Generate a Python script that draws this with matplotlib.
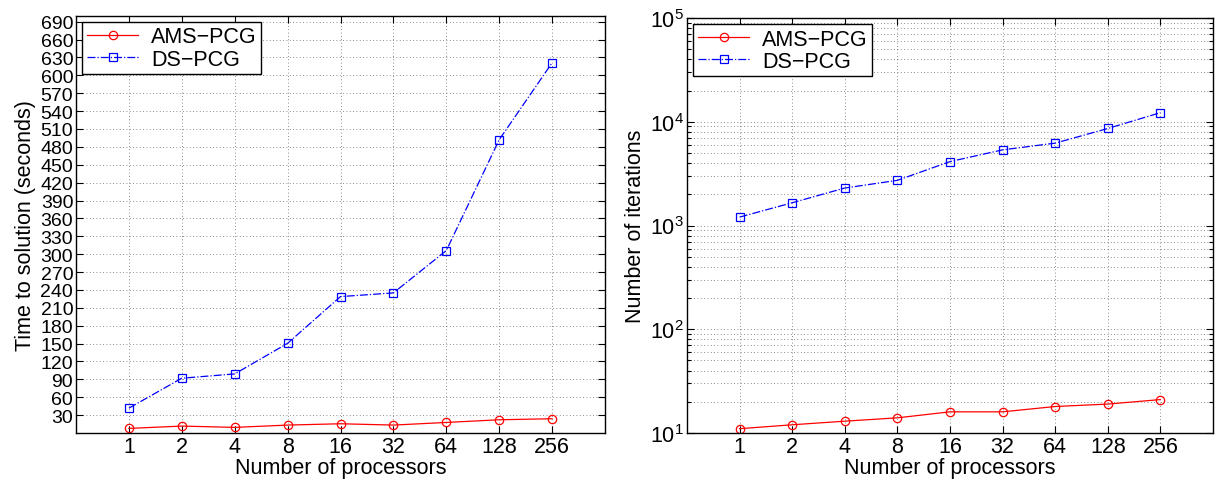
import matplotlib
matplotlib.use("Agg")
import matplotlib.pyplot as plt
from matplotlib.ticker import LogLocator, NullFormatter

plt.rcParams['font.family'] = ['Liberation Sans', 'DejaVu Sans']
plt.rcParams['mathtext.fontset'] = 'custom'
plt.rcParams['mathtext.rm'] = 'Liberation Sans'

procs = ['1', '2', '4', '8', '16', '32', '64', '128', '256']
time_ams = [7.7, 11.6, 9.4, 13.3, 15.5, 13.3, 17.7, 22.2, 23.9]
time_ds = [41.7, 91.9, 99.1, 150.4, 228.8, 235.0, 306.0, 492.0, 621.0]
iter_ams = [11, 12, 13, 14, 16, 16, 18, 19, 21]
iter_ds = [1205, 1656, 2297, 2724, 4130, 5360, 6220, 8610, 12230]
labels = ['AMS\u2212PCG', 'DS\u2212PCG']

fig = plt.figure(figsize=(12.19, 4.85), dpi=100)
W, H = 1219, 485
ax1 = fig.add_axes([76 / W, 1 - 434 / H, (605 - 76) / W, (434 - 16.7) / H])
ax2 = fig.add_axes([687 / W, 1 - 434 / H, (1213 - 687) / W, (434 - 19) / H])

pos = list(range(1, len(procs) + 1))
fs = 15.5

def style(ax):
    ax.tick_params(direction='in', which='both', top=True, right=True,
                   labelsize=fs, length=5, width=0.8, pad=2)
    ax.tick_params(which='minor', length=3)
    for s in ax.spines.values():
        s.set_linewidth(1.0)
    ax.set_xlim(0, 10)
    ax.set_xticks(pos)
    ax.set_xticklabels(procs)
    ax.set_xlabel('Number of processors', fontsize=fs, labelpad=0)

for ax, ya, yd in [(ax1, time_ams, time_ds), (ax2, iter_ams, iter_ds)]:
    ax.plot(pos, ya, color='red', linestyle='-', linewidth=0.9, marker='o',
            markersize=6, markerfacecolor='none', markeredgewidth=0.9, label=labels[0])
    ax.plot(pos, yd, color='blue', linestyle='-.', linewidth=0.9, marker='s',
            markersize=5.5, markerfacecolor='none', markeredgewidth=0.9, label=labels[1])
    style(ax)

ax1.set_ylim(0, 700)
ax1.set_yticks(list(range(30, 691, 30)))
ax1.tick_params(axis='y', labelsize=14, pad=2)
ax1.grid(True, which='major', linestyle=(0, (1, 3)), color='black', linewidth=0.6, alpha=0.6)
ax1.set_ylabel('Time to solution (seconds)', fontsize=fs, labelpad=3)

ax2.set_yscale('log')
ax2.set_ylim(10, 1e5)
ax2.yaxis.set_major_locator(LogLocator(base=10, numticks=10))
ax2.yaxis.set_minor_locator(LogLocator(base=10, subs=range(2, 10), numticks=20))
ax2.yaxis.set_minor_formatter(NullFormatter())
ax2.grid(True, which='major', axis='x', linestyle=(0, (1, 3)), color='black', linewidth=0.6, alpha=0.6)
ax2.grid(True, which='both', axis='y', linestyle=(0, (1, 3)), color='black', linewidth=0.6, alpha=0.6)
ax2.set_ylabel('Number of iterations', fontsize=fs, labelpad=3)

for ax in (ax1, ax2):
    leg = ax.legend(loc='upper left', fontsize=fs, frameon=True, fancybox=False,
                    edgecolor='black', framealpha=1, borderaxespad=0.3,
                    handlelength=2.4, handletextpad=0.6, borderpad=0.2,
                    labelspacing=0.05)
    leg.get_frame().set_linewidth(1.0)

fig.savefig('out.png', dpi=100)
